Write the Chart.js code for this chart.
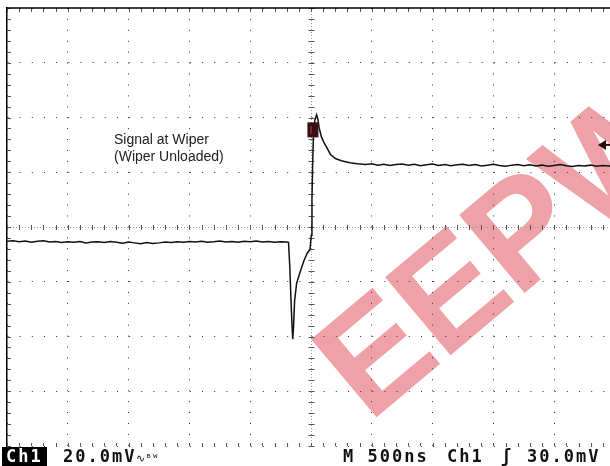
<!DOCTYPE html>
<html>
<head>
<meta charset="utf-8">
<script src="https://cdn.jsdelivr.net/npm/chart.js@4/dist/chart.umd.min.js"></script>
<style>
  html, body { margin: 0; padding: 0; background: #fff; overflow: hidden; }
  #wrap { position: relative; width: 620px; height: 466px; }
  #wrap canvas { position: relative; z-index: 2; }
  .mark { position: absolute; left: 500px; top: 247px; transform: translate(-50%, -50%) rotate(-40deg);
          font: bold 148px "Liberation Sans", Arial, sans-serif; color: rgba(222, 70, 80, 0.5);
          white-space: nowrap; z-index: 1; letter-spacing: -2px; }
  .note { position: absolute; left: 114px; top: 131px; z-index: 3; color: #222;
          font: 14px "Liberation Sans", Arial, sans-serif; line-height: 17px; }
  .bar { position: absolute; top: 447px; z-index: 3; color: #111; white-space: nowrap;
         font: bold 17px "DejaVu Sans Mono", monospace; letter-spacing: 2px; line-height: 19px; }
  .inv { background: #000; color: #fff; padding: 0 4px 0 4px; letter-spacing: 2px; }
  .small { font-size: 11px; letter-spacing: 0; font-weight: normal; }
</style>
</head>
<body>
<div id="wrap">
  <div class="mark">EEPW</div>
  <canvas id="chart"></canvas>
  <div class="note">Signal at Wiper<br>(Wiper Unloaded)</div>
  <div class="bar inv" style="left:2px;">Ch1</div>
  <div class="bar" style="left:63px;">20.0mV<span class="small">∿ᴮᵂ</span></div>
  <div class="bar" style="left:343px;">M 500ns</div>
  <div class="bar" style="left:447px;">Ch1</div>
  <div class="bar" style="left:501px;">ʃ</div>
  <div class="bar" style="left:527px;">30.0mV</div>
</div>
<script>
// time in ns (500 ns/div), signal in mV (20 mV/div)
var timeMin = -2500, timeMax = 2500, timeDiv = 500;
var voltMin = -80, voltMax = 80, voltDiv = 20;
var triggerLevel = 30;
var markerTime = 20, markerLevel = 35.5;

var times = [
  -2500, -2450, -2400, -2350, -2300, -2250, -2200, -2150, -2100, -2050,
  -2000, -1950, -1900, -1850, -1800, -1750, -1700, -1650, -1600, -1550,
  -1500, -1450, -1400, -1350, -1300, -1250, -1200, -1150, -1100, -1050,
  -1000, -950, -900, -850, -800, -750, -700, -650, -600, -550,
  -500, -450, -400, -350, -300, -250, -200,
  -185, -175, -165, -157, -150, -143, -135, -118, -90, -60, -30, -8,
  2, 8, 14, 20, 32, 46, 56, 68, 85, 105, 130, 160, 200, 250, 320, 380,
  450, 500, 550, 600, 650, 700, 750, 800, 850, 900,
  950, 1000, 1050, 1100, 1150, 1200, 1250, 1300, 1350, 1400,
  1450, 1500, 1550, 1600, 1650, 1700, 1750, 1800, 1850, 1900,
  1950, 2000, 2050, 2100, 2150, 2200, 2250, 2300, 2350, 2400,
  2450, 2500
];
var signal = [
  -5.2, -5.0, -5.4, -5.1, -5.6, -5.2, -5.0, -5.5, -5.3, -5.7,
  -5.4, -5.6, -5.3, -5.8, -5.5, -5.4, -5.7, -5.3, -5.6, -5.9,
  -5.5, -5.8, -6.1, -5.7, -6.0, -5.8, -5.5, -5.7, -5.4, -5.6,
  -5.3, -5.5, -5.2, -5.6, -5.4, -5.1, -5.5, -5.3, -5.6, -5.2,
  -5.4, -5.1, -5.5, -5.3, -5.6, -5.4, -5.5,
  -5.6, -14, -26, -35, -41, -36, -27, -20.5, -16.5, -12.5, -9.5, -8.3,
  -3, 10, 24, 33, 39, 41, 39.5, 36, 33, 31, 29, 26.5, 25, 24.2, 23.5, 23.1,
  22.8, 23.1, 22.6, 22.9, 22.5, 22.8, 23.0, 22.6, 22.9, 22.4,
  22.7, 23.0, 22.5, 22.8, 22.4, 22.7, 22.9, 22.5, 22.8, 22.3,
  22.6, 22.9, 22.5, 22.2, 22.6, 22.8, 22.4, 22.7, 22.3, 22.6,
  22.2, 22.5, 22.8, 22.4, 22.1, 22.5, 22.3, 22.6, 22.2, 22.5,
  22.3, 22.4
];

var points = times.map(function (t, i) { return { x: t, y: signal[i] }; });

function seg(ctx, x1, y1, x2, y2) {
  ctx.beginPath(); ctx.moveTo(x1, y1); ctx.lineTo(x2, y2); ctx.stroke();
}

// graticule extras: dotted centre lines, minor ticks, top edge
var scopeGrid = {
  id: 'scopeGrid',
  beforeDatasetsDraw: function (chart) {
    var ctx = chart.ctx, a = chart.chartArea, x = chart.scales.x, y = chart.scales.y;
    var cx = Math.round(x.getPixelForValue(0)) + 0.5, cy = Math.round(y.getPixelForValue(0)) + 0.5;
    ctx.save();
    ctx.lineWidth = 1;
    ctx.strokeStyle = '#999';
    ctx.setLineDash([1, 2]);
    seg(ctx, cx, a.top, cx, a.bottom);
    seg(ctx, a.left, cy, a.right, cy);
    ctx.setLineDash([]);
    ctx.strokeStyle = '#555';
    for (var t = timeMin; t <= timeMax; t += timeDiv / 5) {
      var px = Math.round(x.getPixelForValue(t)) + 0.5;
      seg(ctx, px, cy - 2.5, px, cy + 2.5);
      seg(ctx, px, a.top, px, a.top + 4);
      seg(ctx, px, a.bottom - 3, px, a.bottom);
    }
    for (var v = voltMin; v <= voltMax; v += voltDiv / 5) {
      var py = Math.round(y.getPixelForValue(v)) + 0.5;
      seg(ctx, cx - 3, py, cx + 3, py);
      seg(ctx, a.left, py, a.left + 4, py);
    }
    ctx.strokeStyle = '#000';
    ctx.lineWidth = 1.5;
    seg(ctx, a.left, a.top, a.right, a.top);
    ctx.restore();
  },
  afterDatasetsDraw: function (chart) {
    var ctx = chart.ctx, a = chart.chartArea, x = chart.scales.x, y = chart.scales.y;
    ctx.save();
    // trigger position marker
    var mx = x.getPixelForValue(markerTime), my = y.getPixelForValue(markerLevel);
    ctx.fillStyle = '#3a0e0e';
    ctx.fillRect(mx - 6, my - 7.5, 11, 15);
    ctx.fillStyle = '#a05050';
    ctx.fillRect(mx - 3, my - 4, 1, 8);
    // trigger level arrow
    var ty = y.getPixelForValue(triggerLevel);
    ctx.fillStyle = '#2a0808';
    ctx.strokeStyle = '#2a0808';
    ctx.lineWidth = 2;
    seg(ctx, 604, ty, a.right, ty);
    ctx.beginPath();
    ctx.moveTo(598, ty); ctx.lineTo(606, ty - 5); ctx.lineTo(606, ty + 5); ctx.closePath();
    ctx.fill();
    ctx.restore();
  }
};

function gridColor(c) {
  return c.tick.value === 0 ? 'rgba(0,0,0,0)' : '#333';
}

new Chart(document.getElementById('chart'), {
  type: 'line',
  data: {
    datasets: [{
      data: points,
      borderColor: '#111',
      borderWidth: 1.5,
      pointRadius: 0,
      tension: 0
    }]
  },
  options: {
    responsive: true,
    maintainAspectRatio: false,
    animation: false,
    layout: { padding: { left: 7, top: 8, right: 5, bottom: 20 } },
    plugins: { legend: { display: false }, tooltip: { enabled: false } },
    scales: {
      x: {
        type: 'linear', min: timeMin, max: timeMax,
        ticks: { display: false, stepSize: timeDiv },
        grid: { color: gridColor, drawTicks: false, lineWidth: 1 },
        border: { display: false, dash: [1, 9.92] }
      },
      y: {
        type: 'linear', min: voltMin, max: voltMax,
        ticks: { display: false, stepSize: voltDiv },
        grid: { color: gridColor, drawTicks: false, lineWidth: 1 },
        border: { display: true, color: '#000', width: 1.5, dash: [1, 11.16] }
      }
    }
  },
  plugins: [scopeGrid]
});
</script>
</body>
</html>
